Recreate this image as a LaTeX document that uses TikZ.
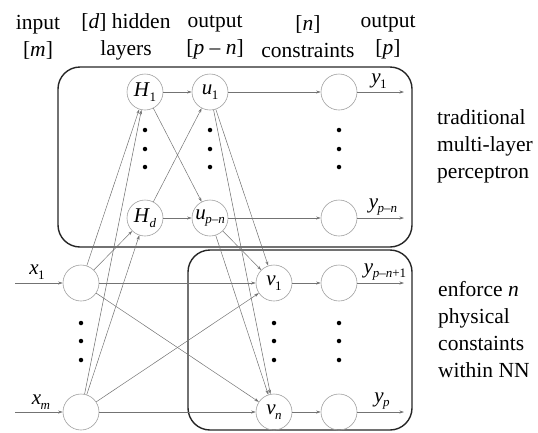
\documentclass[tikz,border=0pt]{standalone}
\usepackage{fontspec}
\setmainfont{Liberation Serif}
\usetikzlibrary{arrows.meta}
\newcommand{\lsub}[2]{\textit{#1}\kern-0.5pt\raisebox{-0.5ex}{\fontsize{13}{13}\selectfont #2}}
\begin{document}
\begin{tikzpicture}[x=1pt,y=-1pt,
  neuron/.style={circle,draw=gray!75,line width=0.6pt,minimum size=36pt,inner sep=0pt,font=\fontsize{21}{21}\selectfont},
  conn/.style={draw=gray!90!black,line width=0.5pt,-{Stealth[length=4.5pt,width=3pt]}},
  frame/.style={draw=black!85,line width=1.4pt,rounded corners=22pt},
  lbl/.style={font=\fontsize{21}{24}\selectfont,inner sep=0pt},
  head/.style={font=\fontsize{21.5}{27}\selectfont,align=center,inner sep=0pt},
  side/.style={font=\fontsize{21.5}{27}\selectfont,align=left,inner sep=0pt,anchor=north west},
  dot/.style={circle,fill=black,inner sep=0pt,minimum size=4.5pt}]
\useasboundingbox (0,0) rectangle (538,432);

% frames
\draw[frame] (58,67) rectangle (412,247);
\draw[frame] (188,250) rectangle (412,430);

% headings
\node[head] (h1) at (38,37) {input\\{[}\textit{m}{]}};
\node[head] (h2) at (126,37) {{[}\textit{d}{]} hidden\\layers};
\node[head] (h3) at (215,37) {output\\{[}\textit{p} – \textit{n}{]}};
\node[head] (h4) at (308,37) {{[}\textit{n}{]}\\constraints};
\node[head] (h5) at (388,37) {output\\{[}\textit{p}{]}};

\node[side] (s1) at (437,109) {traditional\\multi-layer\\perceptron};
\node[side] (s2) at (438,281) {enforce \textit{n}\\physical\\constaints\\within NN};

% neurons
\node[neuron] (x1) at (81,283) {};
\node[neuron] (xm) at (81,412) {};
\node[neuron] (H1) at (145,92) {\lsub{H}{1}};
\node[neuron] (Hd) at (145,218) {\lsub{H}{\textit{d}}};
\node[neuron] (u1) at (210,92) {\lsub{u}{1}};
\node[neuron] (up) at (210,218) {\lsub{u}{\textit{p–n}}};
\node[neuron] (v1) at (274,283) {\lsub{v}{1}};
\node[neuron] (vn) at (274,412) {\lsub{v}{\textit{n}}};
\node[neuron] (c1) at (339,92) {};
\node[neuron] (c2) at (339,218) {};
\node[neuron] (c3) at (339,283) {};
\node[neuron] (c4) at (339,412) {};

% free ends
\coordinate (ix1) at (15,283);
\coordinate (ixm) at (15,412);
\coordinate (o1) at (404,92);
\coordinate (o2) at (404,218);
\coordinate (o3) at (404,283);
\coordinate (o4) at (404,412);

% dots
\foreach \xx in {145,210,339} {\foreach \yy in {130,149,167} {\node[dot] at (\xx,\yy) {};}}
\foreach \xx in {81,274,339} {\foreach \yy in {323,341,360} {\node[dot] at (\xx,\yy) {};}}

% connections
\draw[conn] (ix1) -- (x1);
\draw[conn] (ixm) -- (xm);
\draw[conn] (x1) -- (H1);
\draw[conn] (x1) -- (Hd);
\draw[conn] (xm) -- (H1);
\draw[conn] (xm) -- (Hd);
\draw[conn] (x1) -- (v1);
\draw[conn] (x1) -- (vn);
\draw[conn] (xm) -- (v1);
\draw[conn] (xm) -- (vn);
\draw[conn] (H1) -- (u1);
\draw[conn] (H1) -- (up);
\draw[conn] (Hd) -- (u1);
\draw[conn] (Hd) -- (up);
\draw[conn] (u1) -- (c1);
\draw[conn] (up) -- (c2);
\draw[conn] (u1) -- (v1);
\draw[conn] (u1) -- (vn);
\draw[conn] (up) -- (v1);
\draw[conn] (up) -- (vn);
\draw[conn] (v1) -- (c3);
\draw[conn] (vn) -- (c4);
\draw[conn] (c1) -- (o1);
\draw[conn] (c2) -- (o2);
\draw[conn] (c3) -- (o3);
\draw[conn] (c4) -- (o4);

% labels
\node[lbl] (lx1) at (37,272) {\lsub{x}{1}};
\node[lbl] (lxm) at (41,402) {\lsub{x}{\textit{m}}};
\node[lbl] (ly1) at (379,81) {\lsub{y}{1}};
\node[lbl] (ly2) at (383,207) {\lsub{y}{\textit{p–n}}};
\node[lbl] (ly3) at (385,272) {\lsub{y}{\textit{p–n}+1}};
\node[lbl] (ly4) at (382,401) {\lsub{y}{\textit{p}}};
\end{tikzpicture}
\end{document}
